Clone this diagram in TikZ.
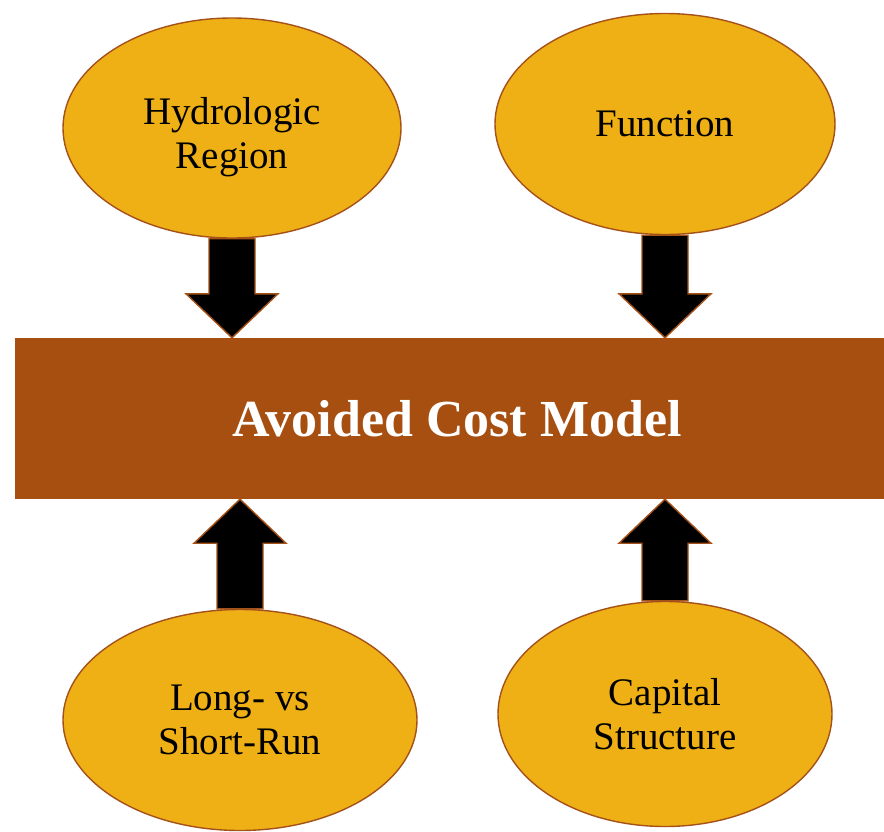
\documentclass[tikz,border=0pt]{standalone}
\usepackage{fontspec}
\setmainfont{Liberation Serif}
\usetikzlibrary{shapes.geometric,calc,backgrounds}
\definecolor{gold}{HTML}{EEB015}
\definecolor{rust}{HTML}{A64F10}
\definecolor{rim}{HTML}{A5511A}
\tikzset{
  x=1pt, y=-1pt,
  bubble/.style={ellipse, draw=rim, line width=1.4pt, fill=gold, inner sep=0pt,
    font=\fontsize{39}{44}\selectfont, align=center, text=black},
  bigarrow/.style={draw=rim, line width=1.4pt, fill=black, line join=miter},
}
% block arrow: #1 = tip, #2 = shaft end (only its y is used), #3 = direction (+1 down, -1 up)
\newcommand{\blockarrow}[3]{%
  \draw[bigarrow] let \p1=(#1), \p2=(#2) in
    (\x1-23pt,\y2) -- (\x1+23pt,\y2) -- (\x1+23pt,\y1+#3*44pt) -- (\x1+46pt,\y1+#3*44pt)
    -- (\x1,\y1) -- (\x1-46pt,\y1+#3*44pt) -- (\x1-23pt,\y1+#3*44pt) -- cycle;}
\begin{document}
\begin{tikzpicture}
\useasboundingbox (0,0) rectangle (884,831);
% central model block
\node[fill=rust, minimum width=869pt, minimum height=161pt, inner sep=0pt] (model) at (449.5,418.5) {};
\node[font=\bfseries\fontsize{52}{58}\selectfont, text=white, inner sep=0pt] (title) at (457,418.5) {Avoided Cost Model};
% input factors
\node[bubble, minimum width=338pt, minimum height=220pt] (hydro) at (232,128) {\rule{0pt}{45pt}Hydrologic\\Region};
\node[bubble, minimum width=340pt, minimum height=221pt] (func) at (665,124) {Function};
\node[bubble, minimum width=354pt, minimum height=221pt] (run) at (240,720) {Long- vs\\Short-Run};
\node[bubble, minimum width=334pt, minimum height=225pt] (cap) at (665,714) {Capital\\Structure};
% block arrows feeding the model, tucked behind the bubbles
\begin{scope}[on background layer]
  \blockarrow{hydro |- model.north}{hydro.south}{1}
  \blockarrow{func |- model.north}{func.south}{1}
  \blockarrow{run |- model.south}{run.north}{-1}
  \blockarrow{cap |- model.south}{cap.north}{-1}
\end{scope}
\end{tikzpicture}
\end{document}
